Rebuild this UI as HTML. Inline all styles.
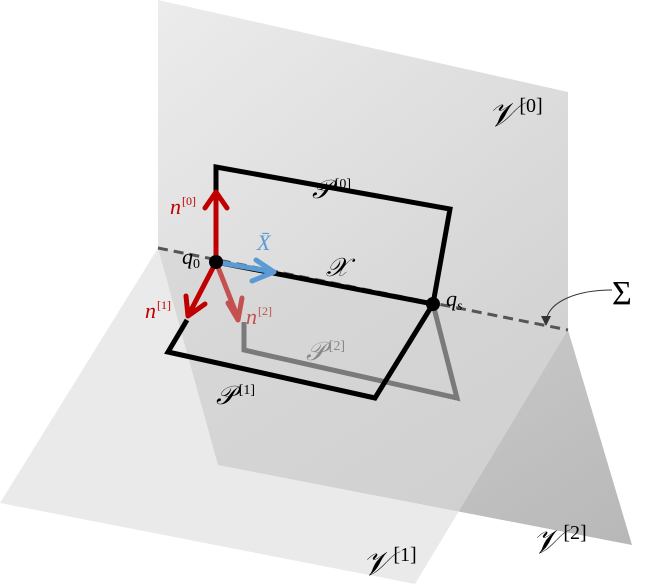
<!DOCTYPE html><html><head><style>body{margin:0;background:#fff}svg{display:block}text{font-family:"Liberation Serif","DejaVu Serif",serif;font-style:italic}</style></head><body>
<svg width="650" height="584" viewBox="0 0 650 584">
<defs>
<linearGradient id="g0" x1="0" y1="0" x2="1" y2="1"><stop offset="0" stop-color="#ececec"/><stop offset="1" stop-color="#d2d2d2"/></linearGradient>
<linearGradient id="g2" x1="0" y1="0" x2="1" y2="1"><stop offset="0" stop-color="#cfcfcf"/><stop offset="1" stop-color="#ababab"/></linearGradient>
</defs>
<polygon points="158,0 568,92 568,330 158,248" fill="url(#g0)"/>
<polygon points="158,248 568,330 632,545 218,465" fill="url(#g2)" opacity="0.85"/>
<polygon points="158,248 568,330 415,584 0,503" fill="#dcdcdc" opacity="0.6"/>
<line x1="158" y1="248" x2="568" y2="330" stroke="#555" stroke-width="3" stroke-dasharray="10,6"/>
<path d="M612,290 C580,290 548,300 546,322" fill="none" stroke="#333" stroke-width="1"/>
<polygon points="541,316 551,316 546,326" fill="#333"/>
<polyline points="244,322 244,350 457,398 433,304" fill="none" stroke="#7a7a7a" stroke-width="5"/>
<polyline points="216,262 216,167 450,209 433,304 216,262" fill="none" stroke="#000" stroke-width="5"/>
<polyline points="187,320 168,352 375,398 433,304" fill="none" stroke="#000" stroke-width="5"/>
<g stroke-linecap="round" stroke-linejoin="round" fill="none">
<path d="M216,262 L238,318 M228,303 L238,320 L242,298" stroke="#c45050" stroke-width="5"/>
<path d="M216,262 L216,192 M205,208 L216,192 L227,208" stroke="#c00000" stroke-width="5"/>
<path d="M216,262 L188,316 M186,296 L188,316 L205,304" stroke="#c00000" stroke-width="5"/>
<path d="M216,262 L274,272 M256,260 L274,272 L252,281" stroke="#5b9bd5" stroke-width="5"/>
</g>
<circle cx="216" cy="262" r="7" fill="#000"/>
<circle cx="433" cy="304" r="7" fill="#000"/>
<g font-size="22">
<text x="182" y="264">q<tspan font-size="14" style="font-style:normal" dy="4">0</tspan></text>
<text x="446" y="306">q<tspan font-size="14" dy="4">s</tspan></text>
<text x="257" y="250" fill="#5b9bd5">X̄</text>
<text x="326" y="276" font-size="26">𝒳</text>
<text x="312" y="198" font-size="26">𝒫<tspan font-size="14" style="font-style:normal" dx="4" dy="-10">[0]</tspan></text>
<text x="306" y="360" font-size="26" fill="#888">𝒫<tspan font-size="14" style="font-style:normal" dx="4" dy="-10">[2]</tspan></text>
<text x="216" y="404" font-size="26">𝒫<tspan font-size="14" style="font-style:normal" dx="4" dy="-10">[1]</tspan></text>
<text x="170" y="214" fill="#c00000">n<tspan font-size="12" style="font-style:normal" dx="1" dy="-9">[0]</tspan></text>
<text x="145" y="318" fill="#c00000">n<tspan font-size="12" style="font-style:normal" dx="1" dy="-9">[1]</tspan></text>
<text x="246" y="324" fill="#c45050">n<tspan font-size="12" style="font-style:normal" dx="1" dy="-9">[2]</tspan></text>
</g>
<g font-size="34">
<text x="488" y="126">𝒱<tspan font-size="20" style="font-style:normal" dx="3" dy="-14">[0]</tspan></text>
<text x="532" y="553">𝒱<tspan font-size="20" style="font-style:normal" dx="3" dy="-14">[2]</tspan></text>
<text x="362" y="575">𝒱<tspan font-size="20" style="font-style:normal" dx="3" dy="-14">[1]</tspan></text>
<text x="612" y="304" style="font-style:normal" font-size="34">Σ</text>
</g>
</svg></body></html>
